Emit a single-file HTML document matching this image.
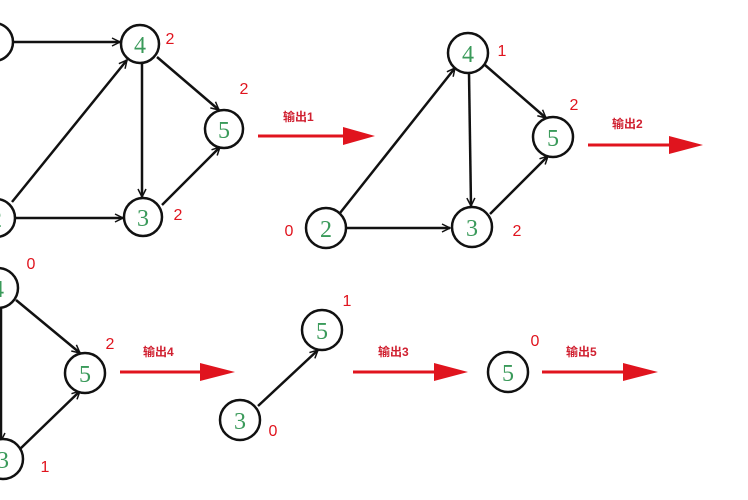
<!DOCTYPE html>
<html><head><meta charset="utf-8"><style>
html,body{margin:0;padding:0;background:#fff;}
svg{display:block}
.n{fill:#fff;stroke:#111;stroke-width:2.5}
.t{font-family:"Liberation Serif",serif;font-size:24px;fill:#3a9a5a;text-anchor:middle}
.r{font-family:"Liberation Sans",sans-serif;font-size:16px;fill:#e0141e;text-anchor:middle}
.l{font-family:"Liberation Sans","Noto Sans CJK SC",sans-serif;font-size:12px;fill:#d02030;font-weight:bold}
.e{stroke:#111;stroke-width:2.5;fill:none;marker-end:url(#a)}
.ra{stroke:#e0141e;stroke-width:3}
</style></head><body>
<svg width="748" height="500" viewBox="0 0 748 500">
<defs><marker id="a" markerWidth="10" markerHeight="10" refX="9" refY="5" orient="auto" markerUnits="userSpaceOnUse"><path d="M1,1 L9,5 L1,9" fill="none" stroke="#111" stroke-width="1.5"/></marker></defs>
<!-- graph 1 -->
<line class="e" x1="12" y1="42" x2="120" y2="42"/>
<line class="e" x1="12" y1="202" x2="127" y2="60"/>
<line class="e" x1="16" y1="218" x2="123" y2="218"/>
<line class="e" x1="142" y1="64" x2="142" y2="197"/>
<line class="e" x1="157" y1="57" x2="219" y2="110"/>
<line class="e" x1="162" y1="205" x2="220" y2="147"/>
<circle class="n" cx="-6" cy="42" r="19"/>
<circle class="n" cx="140" cy="44" r="19"/>
<circle class="n" cx="224" cy="129" r="19"/>
<circle class="n" cx="143" cy="217" r="19"/>
<circle class="n" cx="-4" cy="218" r="19"/>
<text class="t" x="140" y="53">4</text><text class="t" x="224" y="138">5</text><text class="t" x="143" y="226">3</text><text class="t" x="-4" y="227">2</text>
<text class="r" x="170" y="44">2</text><text class="r" x="244" y="94">2</text><text class="r" x="178" y="220">2</text>
<line class="ra" x1="258" y1="136" x2="346" y2="136"/><polygon points="343,127 375,136 343,145" fill="#e0141e"/>
<text class="l" x="283" y="121">输出1</text>
<!-- graph 2 -->
<line class="e" x1="340" y1="213" x2="455" y2="68"/>
<line class="e" x1="347" y1="228" x2="450" y2="228"/>
<line class="e" x1="469" y1="73" x2="471" y2="206"/>
<line class="e" x1="485" y1="65" x2="546" y2="118"/>
<line class="e" x1="490" y1="214" x2="548" y2="156"/>
<circle class="n" cx="468" cy="53" r="20"/>
<circle class="n" cx="553" cy="137" r="20"/>
<circle class="n" cx="472" cy="227" r="20"/>
<circle class="n" cx="326" cy="228" r="20"/>
<text class="t" x="468" y="62">4</text><text class="t" x="553" y="146">5</text><text class="t" x="472" y="236">3</text><text class="t" x="326" y="237">2</text>
<text class="r" x="502" y="56">1</text><text class="r" x="574" y="110">2</text><text class="r" x="517" y="236">2</text><text class="r" x="289" y="236">0</text>
<line class="ra" x1="588" y1="145" x2="672" y2="145"/><polygon points="669,136 703,145 669,154" fill="#e0141e"/>
<text class="l" x="612" y="128">输出2</text>
<!-- graph 3 -->
<line class="e" x1="1" y1="307" x2="1" y2="441"/>
<line class="e" x1="16" y1="300" x2="80" y2="353"/>
<line class="e" x1="20" y1="449" x2="80" y2="391"/>
<circle class="n" cx="-2" cy="288" r="20"/>
<circle class="n" cx="85" cy="373" r="20"/>
<circle class="n" cx="3" cy="459" r="20"/>
<text class="t" x="-2" y="297">4</text><text class="t" x="85" y="382">5</text><text class="t" x="3" y="468">3</text>
<text class="r" x="31" y="269">0</text><text class="r" x="110" y="349">2</text><text class="r" x="45" y="472">1</text>
<line class="ra" x1="120" y1="372" x2="203" y2="372"/><polygon points="200,363 235,372 200,381" fill="#e0141e"/>
<text class="l" x="143" y="356">输出4</text>
<!-- graph 4 -->
<line class="e" x1="258" y1="406" x2="318" y2="350"/>
<circle class="n" cx="322" cy="330" r="20"/>
<circle class="n" cx="240" cy="420" r="20"/>
<text class="t" x="322" y="339">5</text><text class="t" x="240" y="429">3</text>
<text class="r" x="347" y="306">1</text><text class="r" x="273" y="436">0</text>
<line class="ra" x1="353" y1="372" x2="437" y2="372"/><polygon points="434,363 468,372 434,381" fill="#e0141e"/>
<text class="l" x="378" y="356">输出3</text>
<!-- graph 5 -->
<circle class="n" cx="508" cy="372" r="20"/>
<text class="t" x="508" y="381">5</text>
<text class="r" x="535" y="346">0</text>
<line class="ra" x1="542" y1="372" x2="626" y2="372"/><polygon points="623,363 658,372 623,381" fill="#e0141e"/>
<text class="l" x="566" y="356">输出5</text>
</svg>
</body></html>
